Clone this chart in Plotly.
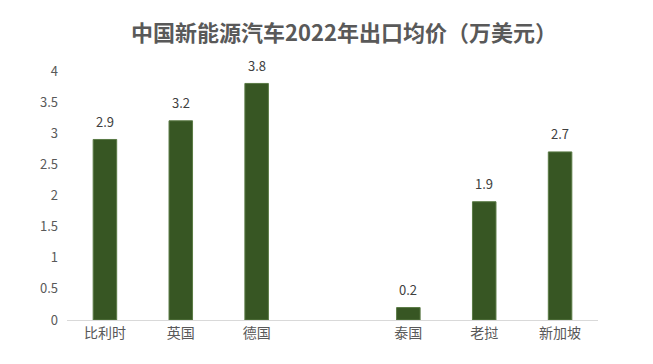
import plotly.graph_objects as go

categories = ["比利时", "英国", "德国", " ", "泰国", "老挝", "新加坡"]
values = [2.9, 3.2, 3.8, None, 0.2, 1.9, 2.7]
labels = ["2.9", "3.2", "3.8", "", "0.2", "1.9", "2.7"]
yticks = [0, 0.5, 1, 1.5, 2, 2.5, 3, 3.5, 4]
yticktext = ["0", "0.5", "1", "1.5", "2", "2.5", "3", "3.5", "4"]

font_family = "Noto Sans CJK SC, Noto Sans, sans-serif"

fig = go.Figure(
    go.Bar(
        x=categories,
        y=values,
        marker=dict(color="#375623", line=dict(color="#5a7a45", width=1)),
        width=0.31,
        hoverinfo="x+y",
    )
)

for c, v, t in zip(categories, values, labels):
    if v is None:
        continue
    fig.add_annotation(
        x=c, y=v, text=t, showarrow=False,
        yanchor="middle", yshift=18,
        font=dict(size=13, color="#404040", family=font_family),
    )

fig.update_layout(
    width=645,
    height=356,
    margin=dict(l=59, r=55, t=63, b=44),
    paper_bgcolor="white",
    plot_bgcolor="white",
    showlegend=False,
    font=dict(family=font_family, color="#595959"),
    title=dict(
        text="<b>中国新能源汽车2022年出口均价（万美元）</b>",
        x=0.521,
        xanchor="center",
        y=0.93,
        yanchor="middle",
        font=dict(size=22, color="#595959", family=font_family),
    ),
    xaxis=dict(
        type="category",
        categoryorder="array",
        categoryarray=categories,
        showline=True,
        linecolor="#d9d9d9",
        linewidth=1,
        showgrid=False,
        ticks="",
        tickfont=dict(size=14, color="#595959"),
    ),
    yaxis=dict(
        range=[0, 4],
        tickvals=yticks,
        ticktext=yticktext,
        showgrid=False,
        zeroline=False,
        showline=False,
        ticks="",
        ticklabelstandoff=8,
        tickfont=dict(size=13, color="#595959"),
    ),
    bargap=0.69,
)

fig.write_html("out.html")
